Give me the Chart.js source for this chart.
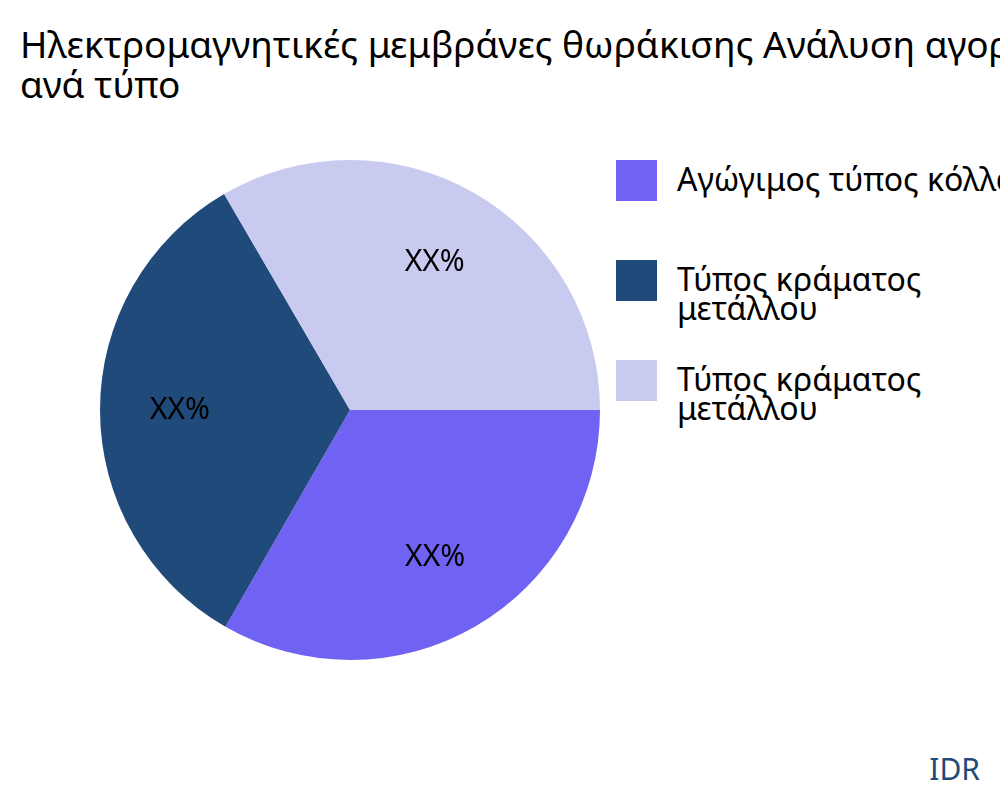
<!DOCTYPE html>
<html>
<head>
<meta charset="utf-8">
<script src="https://cdn.jsdelivr.net/npm/chart.js@4"></script>
<style>
  body { margin:0; width:1000px; height:800px; overflow:hidden; background:#fff; font-family:"Noto Sans",sans-serif; position:relative; }
  #title { position:absolute; left:20px; top:24px; font-size:37px; line-height:40px; white-space:nowrap; color:#000; }
  #wrap { position:absolute; left:98px; top:158px; width:504px; height:504px; }
  #legend { position:absolute; left:616px; top:160px; width:384px; overflow:hidden; }
  .item { display:flex; align-items:flex-start; height:100px; }
  .box { width:41px; height:41px; flex:none; margin-right:20px; }
  .lbl { font-size:32px; line-height:29px; white-space:nowrap; padding-top:4px; }
  #idr { position:absolute; right:20px; top:748px; font-size:30px; color:#1f4a7a; }
</style>
</head>
<body>
<div id="title">Ηλεκτρομαγνητικές μεμβράνες θωράκισης Ανάλυση αγοράς<br>ανά τύπο</div>
<div id="wrap"><canvas id="pie"></canvas></div>
<div id="legend"></div>
<div id="idr">IDR</div>
<script>
const categories = ['Αγώγιμος τύπος κόλλας', 'Τύπος κράματος\nμετάλλου', 'Τύπος κράματος\nμετάλλου'];
const values = [33.3, 33.3, 33.4];
const valueLabels = ['XX%', 'XX%', 'XX%'];
const colors = ['#7063f3', '#1f4a7a', '#c8caf0'];

// html legend
const leg = document.getElementById('legend');
categories.forEach(function(c, i){
  const d = document.createElement('div'); d.className = 'item';
  d.innerHTML = '<div class="box" style="background:' + colors[i] + '"></div><div class="lbl">' + c.replace('\n', '<br>') + '</div>';
  leg.appendChild(d);
});

const sliceLabels = {
  id: 'sliceLabels',
  afterDatasetsDraw(chart){
    const ctx = chart.ctx;
    chart.getDatasetMeta(0).data.forEach(function(arc, i){
      const mid = (arc.startAngle + arc.endAngle) / 2;
      const r = arc.outerRadius * 0.68;
      ctx.save();
      ctx.font = '30px "Noto Sans"';
      ctx.fillStyle = '#000';
      ctx.textAlign = 'center'; ctx.textBaseline = 'middle';
      ctx.fillText(valueLabels[i], arc.x + Math.cos(mid) * r, arc.y + Math.sin(mid) * r);
      ctx.restore();
    });
  }
};

new Chart(document.getElementById('pie'), {
  type: 'pie',
  data: { labels: categories, datasets: [{ data: values, backgroundColor: colors, borderWidth: 0 }] },
  options: {
    animation: false, responsive: true, maintainAspectRatio: false,
    rotation: 90,
    layout: { padding: 2 },
    plugins: { legend: { display: false }, tooltip: { enabled: false } }
  },
  plugins: [sliceLabels]
});
</script>
</body>
</html>
